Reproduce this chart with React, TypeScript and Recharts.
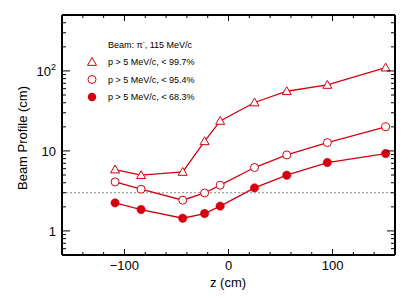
import React from 'react';
import { ComposedChart, Line, XAxis, YAxis, ReferenceLine } from 'recharts';

// ---- data ----
const zValues = [-109, -84, -44, -23, -8, 25, 56, 95, 151];
const profile997 = [5.85, 4.97, 5.46, 13.2, 23.7, 40.3, 55.7, 66.8, 110];
const profile954 = [4.1, 3.32, 2.42, 2.98, 3.73, 6.2, 8.9, 12.7, 20];
const profile683 = [2.24, 1.85, 1.44, 1.65, 2.04, 3.45, 4.97, 7.16, 9.27];

const xTicks = [-140, -120, -100, -80, -60, -40, -20, 0, 20, 40, 60, 80, 100, 120, 140];
const xMajor = [-100, 0, 100];
const xLabels = ['\u2212100', '0', '100'];
const yTicks = [0.6, 0.7, 0.8, 0.9, 1, 2, 3, 4, 5, 6, 7, 8, 9, 10, 20, 30, 40, 50, 60, 70, 80, 90, 100, 200, 300, 400];
const yMajor = [1, 10, 100];
const yLabelBase = ['1', '10', '10'];
const yLabelSup = ['', '', '2'];
const threshold = 3;

const legendHeader = 'Beam: \u03c0';
const legendHeaderSup = '-';
const legendHeaderTail = ', 115 MeV/c';
const legendLabels = ['p > 5 MeV/c, < 99.7%', 'p > 5 MeV/c, < 95.4%', 'p > 5 MeV/c, < 68.3%'];

const xTitle = 'z (cm)';
const yTitle = 'Beam Profile (cm)';

const tableData = zValues.map((z, i) => ({
  z,
  p997: profile997[i],
  p954: profile954[i],
  p683: profile683[i],
}));

// ---- layout / style ----
const W = 415;
const H = 300;
const L = 62;
const R = 395;
const T = 15;
const B = 255;
const RED = '#d4000f';
const FONT = '"Liberation Sans", Arial, Helvetica, sans-serif';

const BottomTick = (props: any) => {
  const { x, payload } = props;
  const v = payload.value;
  const mi = xMajor.indexOf(v);
  const len = mi >= 0 ? 6 : 3;
  return (
    <g>
      <line x1={x} x2={x} y1={B} y2={B - len} stroke="#000" strokeWidth={1} />
      {mi >= 0 && (
        <text x={x} y={B + 15} textAnchor="middle" fontSize={13} fontFamily={FONT} fill="#000">
          {xLabels[mi]}
        </text>
      )}
    </g>
  );
};

const TopTick = (props: any) => {
  const { x, payload } = props;
  const len = xMajor.indexOf(payload.value) >= 0 ? 6 : 3;
  return <line x1={x} x2={x} y1={T} y2={T + len} stroke="#000" strokeWidth={1} />;
};

const LeftTick = (props: any) => {
  const { y, payload } = props;
  const v = payload.value;
  const mi = yMajor.indexOf(v);
  const len = mi >= 0 ? 8 : 4;
  return (
    <g>
      <line x1={L} x2={L + len} y1={y} y2={y} stroke="#000" strokeWidth={1} />
      {mi >= 0 && (
        <text x={L - 6} y={y + 5} textAnchor="end" fontSize={13} fontFamily={FONT} fill="#000">
          {yLabelBase[mi]}
          {yLabelSup[mi] && (
            <tspan fontSize={9} dy={-6}>
              {yLabelSup[mi]}
            </tspan>
          )}
        </text>
      )}
    </g>
  );
};

const RightTick = (props: any) => {
  const { y, payload } = props;
  const len = yMajor.indexOf(payload.value) >= 0 ? 8 : 4;
  return <line x1={R} x2={R - len} y1={y} y2={y} stroke="#000" strokeWidth={1} />;
};

const TriangleDot = (props: any) => {
  const { cx, cy, index } = props;
  if (cx == null || cy == null) return <g key={index} />;
  const s = 4.5;
  return (
    <polygon
      key={index}
      points={`${cx},${cy - s} ${cx - s},${cy + s * 0.75} ${cx + s},${cy + s * 0.75}`}
      fill="#fff"
      stroke={RED}
      strokeWidth={1}
    />
  );
};

const OpenCircleDot = (props: any) => {
  const { cx, cy, index } = props;
  if (cx == null || cy == null) return <g key={index} />;
  return <circle key={index} cx={cx} cy={cy} r={4} fill="#fff" stroke={RED} strokeWidth={1} />;
};

const FilledCircleDot = (props: any) => {
  const { cx, cy, index } = props;
  if (cx == null || cy == null) return <g key={index} />;
  return <circle key={index} cx={cx} cy={cy} r={4.2} fill={RED} stroke={RED} strokeWidth={0.5} />;
};

const legendY0 = 62;
const legendDY = 17.5;
const legendMarkerX = 92;
const legendTextX = 108;

export default function App() {
  return (
    <div style={{ position: 'absolute', left: 0, top: 0, width: W, height: H, background: '#fff' }}>
      <ComposedChart
        width={W}
        height={H}
        data={tableData}
        margin={{ top: T - 1, right: W - R - 1, bottom: H - B - 30, left: L - 40 }}
      >
        <XAxis
          xAxisId="b"
          dataKey="z"
          type="number"
          domain={[-160, 160]}
          ticks={xTicks}
          interval={0}
          height={30}
          axisLine={{ stroke: '#000', strokeWidth: 2 }}
          tickLine={false}
          tick={<BottomTick />}
          allowDataOverflow
        />
        <XAxis
          xAxisId="t"
          orientation="top"
          dataKey="z"
          type="number"
          domain={[-160, 160]}
          ticks={xTicks}
          interval={0}
          height={1}
          axisLine={{ stroke: '#000', strokeWidth: 2 }}
          tickLine={false}
          tick={<TopTick />}
          allowDataOverflow
        />
        <YAxis
          yAxisId="l"
          type="number"
          scale="log"
          domain={[0.5, 500]}
          ticks={yTicks}
          interval={0}
          width={40}
          axisLine={{ stroke: '#000', strokeWidth: 2 }}
          tickLine={false}
          tick={<LeftTick />}
          allowDataOverflow
        />
        <YAxis
          yAxisId="r"
          orientation="right"
          type="number"
          scale="log"
          domain={[0.5, 500]}
          ticks={yTicks}
          interval={0}
          width={1}
          axisLine={{ stroke: '#000', strokeWidth: 2 }}
          tickLine={false}
          tick={<RightTick />}
          allowDataOverflow
        />
        <ReferenceLine
          xAxisId="b"
          yAxisId="l"
          y={threshold}
          stroke="#888"
          strokeWidth={1}
          strokeDasharray="2 2"
        />
        <Line
          xAxisId="b"
          yAxisId="l"
          dataKey="p997"
          stroke={RED}
          strokeWidth={1.3}
          dot={<TriangleDot />}
          isAnimationActive={false}
        />
        <Line
          xAxisId="b"
          yAxisId="l"
          dataKey="p954"
          stroke={RED}
          strokeWidth={1.3}
          dot={<OpenCircleDot />}
          isAnimationActive={false}
        />
        <Line
          xAxisId="b"
          yAxisId="l"
          dataKey="p683"
          stroke={RED}
          strokeWidth={1.3}
          dot={<FilledCircleDot />}
          isAnimationActive={false}
        />
      </ComposedChart>
      <svg
        width={W}
        height={H}
        style={{ position: 'absolute', left: 0, top: 0, pointerEvents: 'none' }}
      >
        <text x={228} y={287} textAnchor="middle" fontSize={13} fontFamily={FONT} fill="#000">
          {xTitle}
        </text>
        <text
          x={0}
          y={0}
          transform={`translate(27, ${(T + B) / 2 + 3}) rotate(-90)`}
          textAnchor="middle"
          fontSize={13}
          fontFamily={FONT}
          fill="#000"
        >
          {yTitle}
        </text>
        <text x={legendTextX} y={48} fontSize={9} fontFamily={FONT} fill="#000">
          {legendHeader}
          <tspan fontSize={6} dy={-4}>
            {legendHeaderSup}
          </tspan>
          <tspan dy={4}>{legendHeaderTail}</tspan>
        </text>
        {legendLabels.map((lab, i) => {
          const cy = legendY0 + i * legendDY;
          const s = 4.5;
          return (
            <g key={lab}>
              {i === 0 && (
                <polygon
                  points={`${legendMarkerX},${cy - s} ${legendMarkerX - s},${cy + s * 0.75} ${legendMarkerX + s},${cy + s * 0.75}`}
                  fill="#fff"
                  stroke={RED}
                  strokeWidth={1}
                />
              )}
              {i === 1 && <circle cx={legendMarkerX} cy={cy} r={4} fill="#fff" stroke={RED} strokeWidth={1} />}
              {i === 2 && <circle cx={legendMarkerX} cy={cy} r={4.2} fill={RED} />}
              <text x={legendTextX} y={cy + 3} fontSize={9} fontFamily={FONT} fill="#000">
                {lab}
              </text>
            </g>
          );
        })}
      </svg>
    </div>
  );
}
